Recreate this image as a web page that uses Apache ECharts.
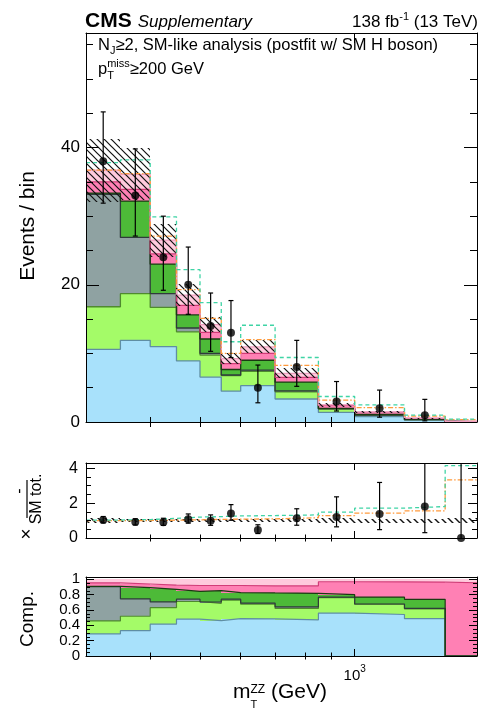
<!DOCTYPE html>
<html>
<head>
<meta charset="utf-8">
<script src="https://cdn.jsdelivr.net/npm/echarts@6/dist/echarts.min.js"></script>
<style>
html, body { margin: 0; padding: 0; background: #fff; }
#chart { width: 482px; height: 713px; }
</style>
</head>
<body>
<div id="chart"></div>
<script>
// ---- Binning in m_T^ZZ (GeV) ----
const binEdges = [300, 350, 400, 450, 500, 550, 600, 700, 850, 1000, 1250, 1500, 1730];

// ---- Observed events and 68% CL interval bounds ----
const observed     = [38, 33, 24, 20, 14, 13, 5, 8, 3, 2, 1, 0];
const observedLow  = [31.9, 27.1, 19.2, 15.7, 10.3, 9.4, 2.8, 5.2, 1.6, 0.7, 0.17, 0];
const observedHigh = [45.2, 39.8, 30.0, 25.5, 18.8, 17.7, 8.3, 11.9, 5.9, 4.65, 3.3, 1.84];

// ---- Postfit SM processes, events per bin (stack order, bottom first) ----
const qqZZ     = [10.6, 11.9, 11.0, 8.9, 6.55, 4.5, 5.3, 3.35, 1.4, 0.79, 0.27, 0];
const wz       = [6.2, 6.8, 5.7, 4.25, 3.2, 2.25, 2.1, 1.05, 0.5, 0.195, 0.07, 0];
const instrMET = [16.4, 8.2, 2.0, 0.55, 0.25, 0.1, 0.15, 0.15, 0.02, 0.005, 0.005, 0];
const nonRes   = [0.15, 5.3, 4.3, 1.9, 2.1, 0.8, 1.45, 1.25, 0.08, 0.13, 0.065, 0];
const ewZZ     = [1.65, 1.7, 1.5, 1.4, 0.95, 0.85, 1.0, 0.7, 0.42, 0.29, 0.125, 0.0955];
const ggZZ     = [1.7, 2.2, 2.0, 1.5, 1.15, 0.75, 0.95, 0.6, 0.08, 0.05, 0.02, 0.0045];

// ---- Total postfit uncertainty on the SM sum (events) ----
const totalUnc = [4.6, 3.8, 2.4, 1.6, 1.15, 0.75, 0.95, 0.75, 0.3, 0.17, 0.065, 0.012];

// ---- Alternative hypotheses, events per bin ----
const altHypA = [37.8, 38.2, 29.9, 22.2, 17.4, 11.7, 14.1, 9.4, 3.72, 2.5, 1.0, 0.415];   // dashed
const altHypB = [36.7, 36.2, 27.1, 19.3, 15.1, 10.0, 12.0, 8.25, 3.2, 2.09, 0.865, 0.333]; // dash-dot

// ---- Axis ticks and ranges ----
const xRange = [300, 1730];
const xMajorTicks = [1000];
const xMinorTicks = [400, 500, 600, 700, 800, 900];
const mainYRange = [0, 56.7];
const mainYMajor = [0, 20, 40];
const mainYMinor = [5, 10, 15, 25, 30, 35, 45, 50, 55];
const ratioYRange = [0, 4.3];
const ratioYMajor = [0, 2, 4];
const ratioYMinor = [0.5, 1, 1.5, 2.5, 3, 3.5];
const compYRange = [0, 1.03];
const compYMajor = [0, 0.2, 0.4, 0.6, 0.8, 1];
const compYMinor = [0.05, 0.1, 0.15, 0.25, 0.3, 0.35, 0.45, 0.5, 0.55, 0.65, 0.7, 0.75, 0.85, 0.9, 0.95];

// ---- Styling ----
const FONT = '"Liberation Sans", Arial, Helvetica, sans-serif';
const procFill = ['#a8e1fb', '#a4fb68', '#8fa2a2', '#4dba38', '#ff80b4', '#ffcadd'];
const procLine = ['#5f8ea3', '#4f8a2e', '#2f3b3b', '#1a3a12', '#d23c78', '#f0a0c0'];
const colA = '#3fd4a5';
const colB = '#ff9a3c';

const procs = [qqZZ, wz, instrMET, nonRes, ewZZ, ggZZ];
const nb = observed.length;
const total = observed.map((_, i) => procs.reduce((s, p) => s + p[i], 0));
const cumul = [];
(function () {
  let run = new Array(nb).fill(0);
  procs.forEach(p => { run = run.map((v, i) => v + p[i]); cumul.push(run.slice()); });
})();
const centers = observed.map((_, i) => Math.sqrt(binEdges[i] * binEdges[i + 1]));

// Diagonal hatch used for the uncertainty band
function makeHatch(step, lw) {
  const c = document.createElement('canvas');
  c.width = step; c.height = step;
  const g = c.getContext('2d');
  g.strokeStyle = '#111'; g.lineWidth = lw;
  g.beginPath();
  g.moveTo(-1, -1); g.lineTo(step + 1, step + 1);
  g.moveTo(-1, step - 1); g.lineTo(1, step + 1);
  g.moveTo(step - 1, -1); g.lineTo(step + 1, 1);
  g.stroke();
  return { image: c, repeat: 'repeat' };
}
const hatchMain = makeHatch(7, 1.2);
const hatchRatio = makeHatch(7, 1.4);

// ---- Grids ----
const grids = [
  { left: 86, top: 33, width: 391, height: 389 },
  { left: 86, top: 463, width: 391, height: 75 },
  { left: 86, top: 577, width: 391, height: 79 }
];

function xAxesFor(g, majorLen, minorLen, labelCfg) {
  const common = { type: 'log', logBase: 10, gridIndex: g, min: xRange[0], max: xRange[1], z: 10,
    splitLine: { show: false }, minorTick: { show: false }, axisPointer: { show: false } };
  const out = [];
  ['bottom', 'top'].forEach(pos => {
    out.push(Object.assign({}, common, { position: pos,
      axisLine: { show: true, onZero: false, lineStyle: { color: '#000', width: 1 } },
      axisTick: { show: true, inside: true, length: majorLen, customValues: xMajorTicks, lineStyle: { color: '#000', width: 1 } },
      axisLabel: (pos === 'bottom' && labelCfg) ? labelCfg : { show: false } }));
    out.push(Object.assign({}, common, { position: pos,
      axisLine: { show: false },
      axisTick: { show: true, inside: true, length: minorLen, customValues: xMinorTicks, lineStyle: { color: '#000', width: 1 } },
      axisLabel: { show: false } }));
  });
  return out;
}

function yAxesFor(g, range, major, minor, majorLen, minorLen, labelCfg) {
  const common = { type: 'value', gridIndex: g, min: range[0], max: range[1], z: 10,
    splitLine: { show: false }, minorTick: { show: false }, axisPointer: { show: false } };
  const out = [];
  ['left', 'right'].forEach(pos => {
    out.push(Object.assign({}, common, { position: pos,
      axisLine: { show: true, onZero: false, lineStyle: { color: '#000', width: 1 } },
      axisTick: { show: true, inside: true, length: majorLen, customValues: major, lineStyle: { color: '#000', width: 1 } },
      axisLabel: (pos === 'left') ? Object.assign({ customValues: major }, labelCfg) : { show: false } }));
    out.push(Object.assign({}, common, { position: pos,
      axisLine: { show: false },
      axisTick: { show: true, inside: true, length: minorLen, customValues: minor, lineStyle: { color: '#000', width: 1 } },
      axisLabel: { show: false } }));
  });
  return out;
}

const xAxes = [].concat(
  xAxesFor(0, 10, 5, null),
  xAxesFor(1, 7, 3.5, null),
  xAxesFor(2, 7, 3.5, {
    show: true, customValues: xMajorTicks, margin: 8,
    formatter: () => '{b|10}{s|3}',
    rich: {
      b: { fontSize: 15, fontFamily: FONT, color: '#000', lineHeight: 19, verticalAlign: 'bottom' },
      s: { fontSize: 10, fontFamily: FONT, color: '#000', lineHeight: 10, verticalAlign: 'top' }
    }
  })
);
const yAxes = [].concat(
  yAxesFor(0, mainYRange, mainYMajor, mainYMinor, 13, 7,
    { show: true, margin: 6, fontSize: 17, fontFamily: FONT, color: '#000' }),
  yAxesFor(1, ratioYRange, ratioYMajor, ratioYMinor, 9, 5,
    { show: true, margin: 8, fontSize: 16, fontFamily: FONT, color: '#000' }),
  yAxesFor(2, compYRange, compYMajor, compYMinor, 8, 4,
    { show: true, margin: 6, fontSize: 15, fontFamily: FONT, color: '#000' })
);

// ---- Series builders ----
// Filled bin rectangles; edges are snapped to whole pixels so neighbours meet without seams
function rectSeries(g, items, z) {
  return {
    type: 'custom', xAxisIndex: g * 4, yAxisIndex: g * 4, z: z, clip: true, silent: true,
    data: items.map(it => [it.x0, it.x1, it.y0, it.y1]),
    encode: { x: [0, 1], y: [2, 3] },
    renderItem: (params, api) => {
      const it = items[params.dataIndex];
      const a = api.coord([api.value(0), api.value(3)]);
      const b = api.coord([api.value(1), api.value(2)]);
      const x0 = Math.round(a[0]), x1 = Math.round(b[0]);
      const y0 = Math.round(a[1]), y1 = Math.round(b[1]);
      return { type: 'rect', shape: { x: x0, y: y0, width: x1 - x0, height: y1 - y0 },
        style: { fill: it.fill, stroke: null } };
    }
  };
}

function stepLine(g, values, color, width, dash, z) {
  const pts = values.map((v, i) => [binEdges[i], v]);
  pts.push([binEdges[nb], values[nb - 1]]);
  return { type: 'line', xAxisIndex: g * 4, yAxisIndex: g * 4, data: pts, step: 'end', symbol: 'none',
    lineStyle: { color: color, width: width, type: dash || 'solid' }, z: z, silent: true };
}

function errorBars(g, idx, ys, lo, hi, z) {
  return {
    type: 'custom', xAxisIndex: g * 4, yAxisIndex: g * 4, z: z, clip: false, silent: true,
    data: idx.map(i => [centers[i], ys[i], lo[i], hi[i]]),
    encode: { x: 0, y: 1 },
    renderItem: (params, api) => {
      const cs = params.coordSys;
      const top = cs.y, bot = cs.y + cs.height;
      const x = api.coord([api.value(0), api.value(1)])[0];
      let yl = api.coord([api.value(0), api.value(2)])[1];
      let yh = api.coord([api.value(0), api.value(3)])[1];
      const kids = [];
      const capL = yl <= bot, capH = yh >= top;
      yl = Math.min(yl, bot); yh = Math.max(yh, top);
      const st = { stroke: '#000', lineWidth: 1.2 };
      kids.push({ type: 'line', shape: { x1: x, y1: yl, x2: x, y2: yh }, style: st });
      if (capH) kids.push({ type: 'line', shape: { x1: x - 2.5, y1: yh, x2: x + 2.5, y2: yh }, style: st });
      if (capL && api.value(2) > 0) kids.push({ type: 'line', shape: { x1: x - 2.5, y1: yl, x2: x + 2.5, y2: yl }, style: st });
      return { type: 'group', children: kids };
    }
  };
}

function points(g, idx, ys, z) {
  return { type: 'scatter', xAxisIndex: g * 4, yAxisIndex: g * 4, z: z, clip: false, silent: true,
    symbol: 'circle', symbolSize: 8, itemStyle: { color: '#000' },
    data: idx.map(i => [centers[i], ys[i]]) };
}

// ---- Main panel ----
const series = [];
const mainRects = [];
procs.forEach((p, k) => {
  for (let i = 0; i < nb; i++) {
    const y0 = k ? cumul[k - 1][i] : 0, y1 = cumul[k][i];
    if (y1 > y0) mainRects.push({ x0: binEdges[i], x1: binEdges[i + 1], y0, y1, fill: procFill[k] });
  }
});
series.push(rectSeries(0, mainRects, 2));
procs.forEach((p, k) => series.push(stepLine(0, cumul[k], procLine[k], 1.3, 'solid', 3)));
series.push(rectSeries(0, total.map((t, i) => ({ x0: binEdges[i], x1: binEdges[i + 1],
  y0: Math.max(0, t - totalUnc[i]), y1: t + totalUnc[i], fill: hatchMain })), 4));
series.push(stepLine(0, altHypB, colB, 1.3, [5, 2, 1.5, 2], 5));
series.push(stepLine(0, altHypA, colA, 1.3, [4, 3], 5));
const mainIdx = observed.map((v, i) => i).filter(i => observed[i] > 0);
series.push(errorBars(0, mainIdx, observed, observedLow, observedHigh, 6));
series.push(points(0, mainIdx, observed, 7));

// ---- Ratio panel ----
const allIdx = observed.map((v, i) => i);
series.push(rectSeries(1, total.map((t, i) => ({ x0: binEdges[i], x1: binEdges[i + 1],
  y0: 1 - totalUnc[i] / t, y1: 1 + totalUnc[i] / t, fill: hatchRatio })), 4));
series.push(stepLine(1, altHypB.map((v, i) => v / total[i]), colB, 1.3, [5, 2, 1.5, 2], 5));
series.push(stepLine(1, altHypA.map((v, i) => v / total[i]), colA, 1.3, [4, 3], 5));
const ratioObs = observed.map((v, i) => v / total[i]);
series.push(errorBars(1, allIdx, ratioObs, observedLow.map((v, i) => v / total[i]),
  observedHigh.map((v, i) => v / total[i]), 6));
series.push(points(1, allIdx, ratioObs, 7));

// ---- Composition panel ----
const compRects = [];
procs.forEach((p, k) => {
  for (let i = 0; i < nb; i++) {
    const y0 = (k ? cumul[k - 1][i] : 0) / total[i], y1 = cumul[k][i] / total[i];
    if (y1 > y0) compRects.push({ x0: binEdges[i], x1: binEdges[i + 1], y0, y1, fill: procFill[k] });
  }
});
series.push(rectSeries(2, compRects, 2));
procs.slice(0, 5).forEach((p, k) =>
  series.push(stepLine(2, cumul[k].map((v, i) => v / total[i]), procLine[k], 1.2, 'solid', 3)));

// ---- Text layout helpers ----
const mctx = document.createElement('canvas').getContext('2d');
function fontOf(p) { return (p.italic ? 'italic ' : '') + (p.bold ? 'bold ' : '') + p.size + 'px ' + FONT; }
function widthOf(p) { mctx.font = fontOf(p); return mctx.measureText(p.t).width; }
function textEl(x, y, p, align, rot) {
  return { type: 'text', x: x, y: y, rotation: rot || 0, z: 100, silent: true,
    style: { text: p.t, fontSize: p.size, fontFamily: FONT, fontWeight: p.bold ? 'bold' : 'normal',
      fontStyle: p.italic ? 'italic' : 'normal', fill: '#000',
      align: align || 'left', verticalAlign: 'middle', textAlign: align || 'left', textVerticalAlign: 'middle' } };
}
// parts: {t,size,dy} or {stack:[part, part]}; y is the baseline
function textRun(x, baseline, parts, anchor) {
  const widths = parts.map(p => p.stack ? Math.max.apply(null, p.stack.map(widthOf)) : widthOf(p));
  const tot = widths.reduce((a, b) => a + b, 0);
  let cx = anchor === 'right' ? x - tot : x;
  const els = [];
  parts.forEach((p, k) => {
    (p.stack || [p]).forEach(q => els.push(textEl(cx, baseline + (q.dy || 0) - 0.3465 * q.size, q, 'left')));
    cx += widths[k] + (p.gap || 0);
  });
  return els;
}

const graphics = [].concat(
  textRun(85, 28, [{ t: 'CMS', size: 21, bold: true, gap: 6 }, { t: 'Supplementary', size: 17, italic: true }]),
  textRun(478, 28, [{ t: '138 fb', size: 17 }, { t: '-1', size: 11, dy: -7 }, { t: ' (13 TeV)', size: 17 }], 'right'),
  textRun(98, 51, [{ t: 'N', size: 16.5 }, { t: 'J', size: 11, dy: 4 },
    { t: '\u22652, SM-like analysis (postfit w/ SM H boson)', size: 16.5 }]),
  textRun(98, 75, [{ t: 'p', size: 16.5 }, { stack: [{ t: 'miss', size: 11, dy: -7 }, { t: 'T', size: 11, dy: 5 }] },
    { t: '\u2265200 GeV', size: 16.5 }]),
  textRun(233, 699, [{ t: 'm', size: 21 }, { stack: [{ t: 'ZZ', size: 12, dy: -5 }, { t: 'T', size: 11, dy: 10 }] },
    { t: ' (GeV)', size: 21 }]),
  [
    textEl(28, 226, { t: 'Events / bin', size: 21 }, 'center', Math.PI / 2),
    textEl(28, 619, { t: 'Comp.', size: 19 }, 'center', Math.PI / 2),
    { type: 'group', x: 27, y: 499, rotation: Math.PI / 2, z: 100, silent: true, children: [
      { type: 'line', shape: { x1: -19, y1: 0, x2: 19, y2: 0 }, style: { stroke: '#000', lineWidth: 1.2 } },
      { type: 'text', x: 0, y: 10, style: { text: 'SM tot.', fontSize: 16, fontFamily: FONT, fill: '#000',
        align: 'center', verticalAlign: 'middle', textAlign: 'center', textVerticalAlign: 'middle' } },
      { type: 'text', x: 8, y: -7, style: { text: '-', fontSize: 16, fontFamily: FONT, fill: '#000',
        align: 'center', verticalAlign: 'middle', textAlign: 'center', textVerticalAlign: 'middle' } },
      { type: 'text', x: -35, y: 0, style: { text: '\u00d7', fontSize: 19, fontFamily: FONT, fill: '#000',
        align: 'center', verticalAlign: 'middle', textAlign: 'center', textVerticalAlign: 'middle' } }
    ] }
  ]
);

const chart = echarts.init(document.getElementById('chart'), null, { renderer: 'canvas', width: 482, height: 713 });
chart.setOption({
  animation: false,
  backgroundColor: '#fff',
  grid: grids,
  xAxis: xAxes,
  yAxis: yAxes,
  series: series,
  graphic: { elements: graphics }
});
</script>
</body>
</html>
